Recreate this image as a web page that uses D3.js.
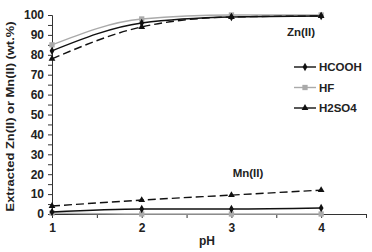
<!DOCTYPE html>
<html>
<head>
<meta charset="utf-8">
<script src="https://cdn.jsdelivr.net/npm/d3@7"></script>
<style>
  body { margin: 0; background: #fff; }
  svg text { font-family: Arial, "Liberation Sans", sans-serif; fill: #222; }
</style>
</head>
<body>
<div id="chart"></div>
<script>
const pH = [1, 2, 3, 4];
const xTickLabels = [1, 2, 3, 4];
const yTicks = [0, 10, 20, 30, 40, 50, 60, 70, 80, 90, 100];

// Zn(II) extraction
const znHCOOH = [82, 96, 99, 99.5];
const znHF = [85, 98, 100, 100];
const znH2SO4 = [78, 94, 99, 99.5];

// Mn(II) extraction
const mnHCOOH = [1, 2.5, 2.5, 3];
const mnHF = [0.5, 0, 0, 0];
const mnH2SO4 = [4, 7, 9.5, 12];

const seriesNames = ['HCOOH', 'HF', 'H2SO4'];
const seriesColor = { HCOOH: '#111', HF: '#aaa', H2SO4: '#111' };
const seriesDash = { HCOOH: null, HF: null, H2SO4: '8,4' };
const seriesSymbol = { HCOOH: d3.symbolDiamond, HF: d3.symbolSquare, H2SO4: d3.symbolTriangle };

const lines = [
  { name: 'HCOOH', values: znHCOOH },
  { name: 'HF', values: znHF },
  { name: 'H2SO4', values: znH2SO4 },
  { name: 'HCOOH', values: mnHCOOH },
  { name: 'HF', values: mnHF },
  { name: 'H2SO4', values: mnH2SO4 }
];

const width = 372, height = 252;
const margin = { top: 15, right: 6, bottom: 38, left: 52 };

const svg = d3.select('#chart').append('svg')
  .attr('width', width)
  .attr('height', height);

const x = d3.scaleLinear().domain([1, 4.5]).range([margin.left, width - margin.right]);
const y = d3.scaleLinear().domain([0, 100]).range([height - margin.bottom, margin.top]);

// y axis with major + minor ticks
svg.append('g')
  .attr('transform', 'translate(' + margin.left + ',0)')
  .call(d3.axisLeft(y).tickValues(d3.range(0, 101, 5)).tickSize(4).tickFormat(d => yTicks.includes(d) ? d : ''))
  .call(g => g.select('.domain').attr('stroke', '#333'))
  .call(g => g.selectAll('.tick line').attr('stroke', '#333'))
  .call(g => g.selectAll('.tick text')
    .attr('font-size', 12).attr('font-weight', 'bold').attr('dx', '-1'));

// x axis
svg.append('g')
  .attr('transform', 'translate(0,' + y(0) + ')')
  .call(d3.axisBottom(x).tickValues(d3.range(1, 4.51, 0.5)).tickSize(4)
    .tickFormat(d => xTickLabels.includes(d) ? d : ''))
  .call(g => g.select('.domain').attr('stroke', '#333'))
  .call(g => g.selectAll('.tick line').attr('stroke', '#333'))
  .call(g => g.selectAll('.tick text')
    .attr('font-size', 12).attr('font-weight', 'bold').attr('dy', '0.9em'));

const line = d3.line()
  .x((d, i) => x(pH[i]))
  .y(d => y(d))
  .curve(d3.curveMonotoneX);

// gray series first so black ones draw on top
const order = lines.slice().sort((a, b) => (a.name === 'HF' ? -1 : 0) - (b.name === 'HF' ? -1 : 0));

order.forEach(s => {
  svg.append('path')
    .datum(s.values)
    .attr('fill', 'none')
    .attr('stroke', seriesColor[s.name])
    .attr('stroke-width', 1.4)
    .attr('stroke-dasharray', seriesDash[s.name])
    .attr('d', line);

  svg.selectAll(null)
    .data(s.values)
    .enter().append('path')
    .attr('transform', (d, i) => 'translate(' + x(pH[i]) + ',' + y(d) + ')')
    .attr('d', d3.symbol().type(seriesSymbol[s.name]).size(s.name === 'HF' ? 28 : 20))
    .attr('fill', seriesColor[s.name]);
});

// legend
const legend = svg.append('g').attr('transform', 'translate(294,67)');
seriesNames.forEach((name, i) => {
  const g = legend.append('g').attr('transform', 'translate(0,' + (i * 20.5) + ')');
  g.append('line')
    .attr('x1', 0).attr('x2', 22)
    .attr('stroke', seriesColor[name]).attr('stroke-width', 1.4);
  g.append('path')
    .attr('transform', 'translate(11,0)')
    .attr('d', d3.symbol().type(seriesSymbol[name]).size(name === 'HF' ? 28 : 20))
    .attr('fill', seriesColor[name]);
  g.append('text')
    .attr('x', 25).attr('dy', '0.36em')
    .attr('font-size', 11.5).attr('font-weight', 'bold')
    .text(name);
});

// labels
svg.append('text')
  .attr('x', 301).attr('y', 36)
  .attr('text-anchor', 'middle')
  .attr('font-size', 11.5).attr('font-weight', 'bold')
  .text('Zn(II)');

svg.append('text')
  .attr('x', 248).attr('y', 177)
  .attr('text-anchor', 'middle')
  .attr('font-size', 11.5).attr('font-weight', 'bold')
  .text('Mn(II)');

svg.append('text')
  .attr('x', 207).attr('y', 245)
  .attr('text-anchor', 'middle')
  .attr('font-size', 12).attr('font-weight', 'bold')
  .text('pH');

svg.append('text')
  .attr('transform', 'translate(14,' + ((margin.top + y(0)) / 2 + 2) + ') rotate(-90)')
  .attr('text-anchor', 'middle')
  .attr('font-size', 11).attr('font-weight', 'bold')
  .attr('textLength', 190).attr('lengthAdjust', 'spacingAndGlyphs')
  .text('Extracted Zn(II) or Mn(II)  (wt.%)');
</script>
</body>
</html>
